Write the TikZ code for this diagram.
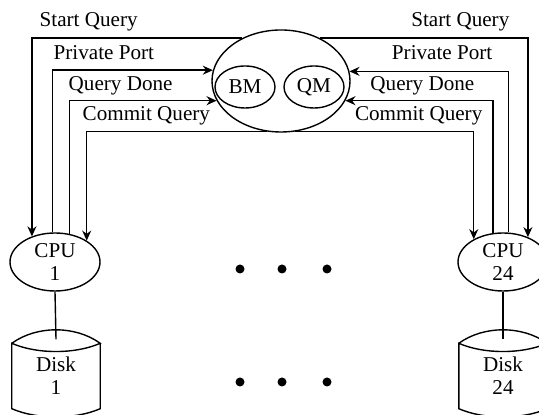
\documentclass[tikz,border=0pt]{standalone}
\usepackage{fontspec}
\setmainfont{Liberation Serif}
\usetikzlibrary{arrows.meta,shapes.geometric}

\begin{document}
\begin{tikzpicture}[x=0.5bp,y=0.5bp,>={Stealth[length=5bp,width=4.5bp]},line width=0.7pt,
font=\fontsize{10.6}{11.5}\selectfont,
unit/.style={draw,ellipse,inner sep=0pt,minimum width=45bp,minimum height=29bp,align=center},
mgrbox/.style={draw,ellipse,inner sep=0pt,minimum width=69bp,minimum height=51bp},
part/.style={draw,ellipse,inner sep=0pt,minimum width=30bp,minimum height=21bp},
diskbox/.style={inner sep=0pt,minimum width=43.5bp,minimum height=32bp,align=center},
lbl/.style={inner sep=0pt},
dot/.style={circle,fill,inner sep=0pt,minimum size=4.5bp}]
\useasboundingbox (0,0) rectangle (539,415);
% manager with its two parts
\node[mgrbox] (mgr) at (281,334) {};
\node[part] (bm) at (245,328) {BM};
\node[part] (qm) at (314,328) {QM};
% processors and disks
\node[unit] (cpu1) at (55,153) {CPU\\1};
\node[unit] (cpu24) at (503,153) {CPU\\24};
\node[diskbox] (disk1) at (56,39) {Disk\\1};
\node[diskbox] (disk24) at (503,39) {Disk\\24};
\foreach \d in {disk1,disk24}{
  \draw (\d.north west) .. controls +(25,18) and +(-25,18) .. (\d.north east)
        .. controls +(-25,-11) and +(25,-11) .. (\d.north west)
        -- (\d.south west) .. controls +(25,-11) and +(-25,-11) .. (\d.south east)
        -- (\d.north east);
}
\draw (cpu1.south) -- ([yshift=2bp]disk1.north);
\draw (cpu24.south) -- ([yshift=2bp]disk24.north);
% message lines
\draw[->] (mgr.132) -| (cpu1.132.7);
\draw[<-] (mgr.171.2) -| (cpu1.95.9);
\draw[<-] (mgr.197) -| (cpu1.63.1);
\draw[->] (mgr.254.8) -| (cpu1.34.1);
\draw[->] (mgr.48) -| (cpu24.45.6);
\draw[<-] (mgr.8.4) -| (cpu24.80.1);
\draw[<-] (mgr.343.4) -| (cpu24.109.5);
\draw[->] (mgr.285.2) -| (cpu24.142.6);
% labels
\node[lbl,anchor=west] (lsq) at (39,393) {Start Query};
\node[lbl,anchor=west] (lpp) at (53,362) {Private Port};
\node[lbl,anchor=west] (lqd) at (68,329) {Query Done};
\node[lbl,anchor=west] (lcq) at (82,299) {Commit Query};
\node[lbl,anchor=east] (rsq) at (510,393) {Start Query};
\node[lbl,anchor=east] (rpp) at (493,362) {Private Port};
\node[lbl,anchor=east] (rqd) at (475,329) {Query Done};
\node[lbl,anchor=east] (rcq) at (483,299) {Commit Query};
% dots
\foreach \x [count=\i] in {240,282,327}{
  \node[dot] (up\i) at (\x,146) {};
  \node[dot] (lo\i) at (\x,33) {};
}
\end{tikzpicture}
\end{document}
